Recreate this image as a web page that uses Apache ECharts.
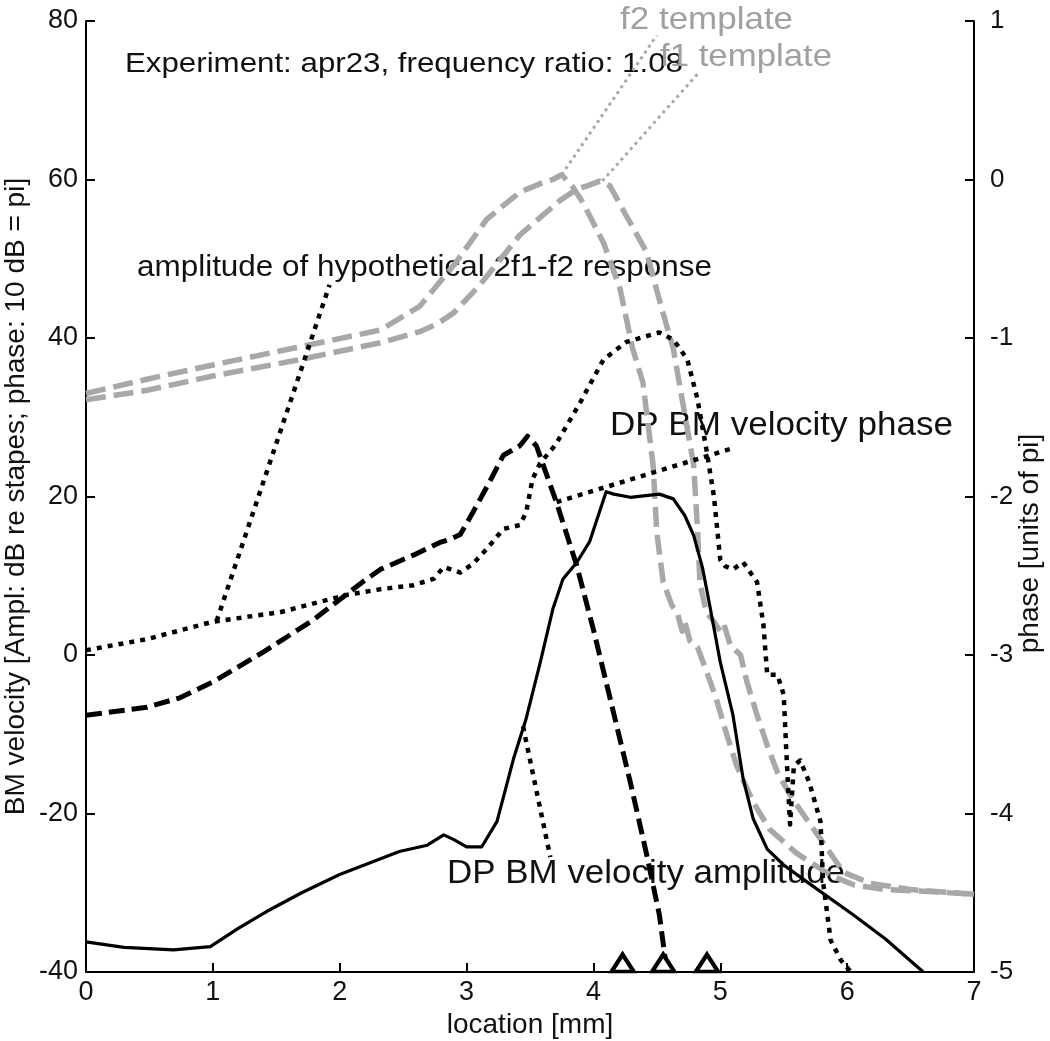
<!DOCTYPE html>
<html><head><meta charset="utf-8">
<script src="https://cdn.jsdelivr.net/npm/echarts@6/dist/echarts.min.js"></script>
<style>html,body{margin:0;padding:0;background:#fff;} #c{width:1050px;height:1041px;}</style>
</head><body><div id="c"></div>
<script>
const FONT = '"Liberation Sans", Arial, sans-serif';

// ---- axis ranges / ticks ----
const xRange = [0, 7], xStep = 1;
const ampRange = [-40, 80], ampStep = 20;
const phaseRange = [-5, 1], phaseStep = 1;

// ---- DP BM velocity amplitude (dB) ----
const ampX  = [0, 0.3, 0.69, 0.98, 1.2, 1.42, 1.7, 2.0, 2.47, 2.69, 2.82, 2.9, 3.0, 3.12, 3.24, 3.37, 3.47, 3.58, 3.68, 3.76, 3.87, 3.97, 4.1, 4.16, 4.29, 4.52, 4.63, 4.72, 4.79, 4.86, 4.92, 5.0, 5.1, 5.18, 5.26, 5.37, 5.5, 5.68, 6.05, 6.3, 6.6];
const ampDb = [-36.2, -36.9, -37.2, -36.8, -34.5, -32.4, -30, -27.7, -24.8, -24, -22.7, -23.3, -24.2, -24.2, -21, -13.1, -8, -1, 5.8, 9.6, 11.7, 14.3, 20.6, 20.3, 19.9, 20.3, 19.7, 17.6, 15.1, 11, 6, -0.9, -7.6, -15.6, -20.7, -24.5, -26.5, -28.6, -32.8, -35.8, -40];

// ---- amplitude of hypothetical 2f1-f2 response (dB) ----
const hypoX  = [0, 0.48, 1.0, 1.53, 2.06, 2.32, 2.58, 2.74, 2.82, 2.95, 3.05, 3.16, 3.29, 3.42, 3.47, 3.52, 3.58, 3.7, 3.89, 4.08, 4.26, 4.52, 4.63, 4.74, 4.82, 4.89, 4.95, 5.0, 5.04, 5.1, 5.18, 5.29, 5.34, 5.37, 5.45, 5.5, 5.52, 5.55, 5.58, 5.63, 5.7, 5.79, 5.81, 5.87, 5.95, 6.03];
const hypoDb = [0.6, 2.0, 4.2, 5.4, 7.6, 8.3, 8.8, 9.6, 11.1, 10.4, 11.5, 13.4, 15.9, 16.4, 18.0, 22.2, 24.2, 26.5, 31.7, 37.3, 39.5, 40.7, 39.8, 37.3, 32.3, 26, 20, 12, 11.2, 10.8, 11.7, 9.2, 3.8, -2.5, -2.5, -5, -12, -21.4, -14, -13.3, -16, -21, -28.6, -36, -38.5, -40];

// ---- DP BM velocity phase (units of pi) ----
const dpPhX = [0, 0.48, 0.74, 1.0, 1.4, 1.79, 2.18, 2.32, 2.58, 2.79, 2.87, 2.95, 3.05, 3.18, 3.29, 3.42, 3.48, 3.55, 3.71, 3.87, 4.0, 4.1, 4.29, 4.42, 4.52, 4.58];
const dpPh  = [-3.38, -3.33, -3.27, -3.17, -2.98, -2.78, -2.54, -2.46, -2.37, -2.29, -2.27, -2.24, -2.1, -1.91, -1.74, -1.68, -1.62, -1.68, -2.04, -2.44, -2.84, -3.17, -3.8, -4.26, -4.64, -5.0];

// ---- f2 template phase (units of pi) ----
const f2X  = [0, 0.48, 1.0, 1.66, 2.32, 2.63, 2.9, 3.16, 3.42, 3.6, 3.68, 3.75, 3.84, 3.92, 4.08, 4.21, 4.31, 4.39, 4.47, 4.5, 4.55, 4.62, 4.66, 4.7, 4.72, 4.76, 4.82, 4.89, 4.97, 5.05, 5.13, 5.26, 5.39, 5.6, 5.87, 6.05, 6.3, 6.6, 7.0];
const f2Ph = [-1.35, -1.26, -1.17, -1.06, -0.95, -0.8, -0.54, -0.25, -0.08, -0.02, 0, 0.03, -0.05, -0.15, -0.4, -0.69, -1.07, -1.28, -1.8, -2.23, -2.54, -2.69, -2.73, -2.85, -2.79, -2.91, -2.95, -3.1, -3.28, -3.5, -3.7, -3.93, -4.1, -4.25, -4.39, -4.45, -4.48, -4.49, -4.51];

// ---- f1 template phase (units of pi) ----
const f1X  = [0, 0.48, 1.0, 1.66, 2.32, 2.63, 2.77, 2.9, 3.1, 3.42, 3.74, 3.87, 3.95, 4.05, 4.13, 4.26, 4.42, 4.52, 4.63, 4.7, 4.79, 4.82, 4.84, 4.89, 4.94, 5.0, 5.03, 5.08, 5.16, 5.21, 5.29, 5.37, 5.45, 5.57, 5.79, 5.97, 6.18, 6.5, 7.0];
const f1Ph = [-1.39, -1.33, -1.24, -1.14, -1.03, -0.96, -0.91, -0.84, -0.67, -0.35, -0.13, -0.06, -0.04, -0.01, -0.04, -0.23, -0.46, -0.76, -1.07, -1.39, -1.8, -2.2, -2.55, -2.73, -2.78, -2.85, -2.81, -2.94, -3.0, -3.17, -3.38, -3.57, -3.74, -3.91, -4.16, -4.37, -4.44, -4.48, -4.51];

// ---- template extensions toward labels (units of pi) ----
const f2ExtX = [3.75, 4.5],  f2ExtPh = [0.03, 0.91];
const f1ExtX = [4.07, 4.82], f1ExtPh = [-0.01, 0.665];

// ---- leader lines for the labels (dB axis) ----
const ptrHypoX = [1.03, 1.92],  ptrHypoDb = [4.3, 46.7];
const ptrPhX   = [3.71, 5.08],  ptrPhDb   = [19.3, 26.0];
const ptrAmpX  = [3.445, 3.66], ptrAmpDb  = [-9.0, -25.5];

// ---- triangle markers on the location axis ----
const triX = [4.23, 4.55, 4.895];

// ---- texts ----
const xTitle = 'location [mm]';
const yTitle = 'BM velocity [Ampl: dB re stapes; phase: 10 dB = pi]';
const y2Title = 'phase [units of pi]';
const labels = [
  {text: 'Experiment: apr23, frequency ratio: 1.08', x: 0.307, y: 74.6, size: 28, w: 558, color: '#111'},
  {text: 'amplitude of hypothetical 2f1-f2 response', x: 0.402, y: 48.8, size: 29, w: 575, color: '#111'},
  {text: 'f2 template', x: 4.21, y: 80.1, size: 32, w: 173, color: '#a0a0a0'},
  {text: 'f1 template', x: 4.525, y: 75.4, size: 32, w: 172, color: '#a0a0a0'},
  {text: 'DP BM velocity phase', x: 4.13, y: 28.9, size: 33, w: 343, color: '#111'},
  {text: 'DP BM velocity amplitude', x: 2.846, y: -27.6, size: 33, w: 398, color: '#111'}
];

const pts = (xs, ys) => xs.map((x, i) => [x, ys[i]]);
const GRAY = '#a8a8a8';
function line(name, data, yIdx, color, width, dash, z) {
  return {type: 'line', name, data, yAxisIndex: yIdx, symbol: 'none', smooth: false,
    silent: true, animation: false, z: z,
    lineStyle: {color, width, type: dash, cap: 'butt', join: 'round'}};
}

const axisCommon = {
  axisLine: {show: true, onZero: false, lineStyle: {color: '#000', width: 2}},
  axisTick: {show: true, inside: true, length: 9, lineStyle: {color: '#000', width: 2}},
  splitLine: {show: false},
  nameMoveOverlap: false,
  nameTextStyle: {color: '#111', fontSize: 28, fontFamily: FONT}
};

const chart = echarts.init(document.getElementById('c'), null, {renderer: 'canvas'});
chart.setOption({
  backgroundColor: '#fff',
  animation: false,
  grid: {left: 86, right: 76, top: 21, bottom: 69, containLabel: false, outerBoundsMode: 'none'},
  xAxis: Object.assign({}, axisCommon, {
    type: 'value', min: xRange[0], max: xRange[1], interval: xStep,
    axisLabel: {color: '#111', fontSize: 27, fontFamily: FONT, margin: 7},
    name: xTitle, nameLocation: 'middle', nameGap: 39
  }),
  yAxis: [
    Object.assign({}, axisCommon, {
      type: 'value', position: 'left', min: ampRange[0], max: ampRange[1], interval: ampStep,
      axisLabel: {color: '#111', fontSize: 27, fontFamily: FONT, margin: 8},
      name: yTitle, nameLocation: 'middle', nameRotate: 90, nameGap: 56
    }),
    Object.assign({}, axisCommon, {
      type: 'value', position: 'right', min: phaseRange[0], max: phaseRange[1], interval: phaseStep,
      axisLabel: {color: '#111', fontSize: 26, fontFamily: FONT, margin: 16},
      name: y2Title, nameLocation: 'middle', nameRotate: 90, nameGap: 42,
      nameTextStyle: {color: '#111', fontSize: 28, fontFamily: FONT, padding: [0, 94, 0, 0]}
    })
  ],
  series: [
    line('f2 template', pts(f2X, f2Ph), 1, GRAY, 5.5, [20, 8], 2),
    line('f1 template', pts(f1X, f1Ph), 1, GRAY, 5.5, [20, 8], 2),
    line('f2 extension', pts(f2ExtX, f2ExtPh), 1, GRAY, 3, [3, 4], 2),
    line('f1 extension', pts(f1ExtX, f1ExtPh), 1, GRAY, 3, [3, 4], 2),
    line('hypothetical 2f1-f2 amplitude', pts(hypoX, hypoDb), 0, '#000', 4.5, [5, 6], 3),
    line('DP BM velocity phase', pts(dpPhX, dpPh), 1, '#000', 5, [16, 7], 3),
    line('DP BM velocity amplitude', pts(ampX, ampDb), 0, '#000', 3.2, 'solid', 4),
    line('ptr hypo', pts(ptrHypoX, ptrHypoDb), 0, '#000', 4.5, [5, 6], 3),
    line('ptr phase', pts(ptrPhX, ptrPhDb), 0, '#000', 4.5, [5, 6], 3),
    line('ptr amp', pts(ptrAmpX, ptrAmpDb), 0, '#000', 4.5, [5, 6], 3),
    {type: 'scatter', name: 'markers', data: triX.map(x => [x, ampRange[0]]), yAxisIndex: 0,
     symbol: 'triangle', symbolSize: [22, 17], symbolOffset: [0, -9], silent: true, z: 5, clip: false,
     itemStyle: {color: '#fff', borderColor: '#000', borderWidth: 4, opacity: 1}}
  ]
});

// annotation texts placed from data coordinates
const ctx = document.createElement('canvas').getContext('2d');
const graphics = labels.map(l => {
  const font = l.size + 'px "Liberation Sans"';
  ctx.font = font;
  const natural = ctx.measureText(l.text).width;
  const p = chart.convertToPixel({xAxisIndex: 0, yAxisIndex: 0}, [l.x, l.y]);
  return {type: 'text', x: p[0], y: p[1], scaleX: l.w / natural, z: 0, silent: true,
    style: {text: l.text, font: font, fill: l.color, textAlign: 'left',
      textVerticalAlign: 'middle', verticalAlign: 'middle'}};
});
chart.setOption({graphic: graphics});
</script>
</body></html>
